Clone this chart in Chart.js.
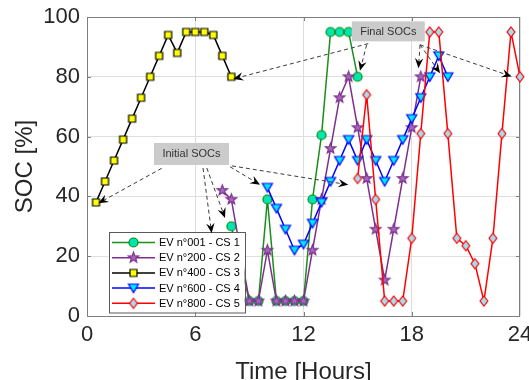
<!DOCTYPE html>
<html>
<head>
<meta charset="utf-8">
<script src="https://cdn.jsdelivr.net/npm/chart.js@4.4.1/dist/chart.umd.min.js"></script>
<style>
  html, body { margin: 0; padding: 0; background: #fff; }
  #wrap { width: 529px; height: 380px; }
</style>
</head>
<body>
<div id="wrap"><canvas id="socChart"></canvas></div>
<script>
// SOC profiles of the five EVs (time in hours, SOC in %)
const hoursEV001 = [8, 9, 9.5, 10, 10.5, 11, 11.5, 12, 12.5, 13, 13.5, 14, 14.5, 15];
const socEV001 = [30, 5, 5, 39, 5, 5, 5, 5, 39, 60.5, 95, 95, 95, 80];

const hoursEV200 = [7.5, 8, 9, 9.5, 10, 10.5, 11, 11.5, 12, 12.5, 13, 13.5, 14, 14.5, 15, 15.5, 16, 16.5, 17, 17.5, 18, 18.5];
const socEV200 = [42, 39, 5, 5, 22, 5, 5, 5, 5, 22, 39, 56, 73, 80, 63, 46, 29, 12, 29, 46, 63, 80];

const hoursEV400 = [0.5, 1, 1.5, 2, 2.5, 3, 3.5, 4, 4.5, 5, 5.5, 6, 6.5, 7, 7.5, 8];
const socEV400 = [38, 45, 52, 59, 66, 73, 80, 87, 94, 88, 95, 95, 95, 94, 87, 80];

const hoursEV600 = [10, 10.5, 11, 11.5, 12, 12.5, 13, 13.5, 14, 14.5, 15, 15.5, 16, 16.5, 17, 17.5, 18, 18.5, 19, 19.5, 20];
const socEV600 = [43, 36, 29, 22, 24, 31, 38, 45, 52, 59, 52, 59, 52, 45, 52, 59, 66, 73, 80, 87, 80];

const hoursEV800 = [15, 15.5, 16, 16.5, 17, 17.5, 18, 18.5, 19, 19.5, 20, 20.5, 21, 21.5, 22, 22.5, 23, 23.5, 24];
const socEV800 = [46, 74, 39, 5, 5, 5, 26, 61, 95, 95, 61, 26, 23.5, 17.5, 5, 26, 61, 95, 80];

const seriesLabels = ['EV n°001 - CS 1', 'EV n°200 - CS 2', 'EV n°400 - CS 3', 'EV n°600 - CS 4', 'EV n°800 - CS 5'];
const xTicks = [0, 6, 12, 18, 24];
const yTicks = [0, 20, 40, 60, 80, 100];

// annotation boxes and arrows, in data units [xStart, yStart, xTip, yTip]
const initialBox = { text: 'Initial SOCs', x: 5.79, y: 54.2, w: 75, h: 22 };
const finalBox = { text: 'Final SOCs', x: 16.70, y: 95.2, w: 73, h: 20 };
const initialArrows = [
    [4.14, 49.4, 0.63, 37.7],
    [6.43, 49.5, 6.91, 27.7],
    [6.64, 49.5, 7.65, 32.8],
    [7.93, 49.9, 9.59, 43.9],
    [8.04, 50.2, 14.48, 43.9]
];
const finalArrows = [
    [15.59, 91.1, 8.11, 79.3],
    [15.50, 90.7, 15.13, 82.0],
    [18.46, 90.7, 18.37, 82.9],
    [18.46, 90.7, 19.57, 81.2],
    [18.46, 90.7, 23.54, 80.1]
];

const FONT = "'Liberation Sans', Arial, Helvetica, sans-serif";
const AXIS_COLOR = '#262626';

// Build a marker image (MATLAB-like symbols)
function makeMarker(shape, size, face, edge) {
    const s = size + 4;
    const c = document.createElement('canvas');
    c.width = s;
    c.height = s;
    const g = c.getContext('2d');
    g.translate(s / 2, s / 2);
    const r = size / 2;
    g.beginPath();
    if (shape === 'circle') {
        g.arc(0, 0, r, 0, Math.PI * 2);
    } else if (shape === 'square') {
        g.rect(-r, -r, size, size);
    } else if (shape === 'triangleDown') {
        g.moveTo(-r, -r * 0.8);
        g.lineTo(r, -r * 0.8);
        g.lineTo(0, r * 0.9);
        g.closePath();
    } else if (shape === 'diamond') {
        g.moveTo(0, -r);
        g.lineTo(r * 0.78, 0);
        g.lineTo(0, r);
        g.lineTo(-r * 0.78, 0);
        g.closePath();
    } else if (shape === 'star') {
        for (let k = 0; k < 10; k++) {
            const a = -Math.PI / 2 + k * Math.PI / 5;
            const rad = k % 2 === 0 ? r : r * 0.42;
            const px = rad * Math.cos(a), py = rad * Math.sin(a);
            if (k === 0) g.moveTo(px, py); else g.lineTo(px, py);
        }
        g.closePath();
    }
    g.fillStyle = face;
    g.fill();
    g.lineWidth = 1.2;
    g.strokeStyle = edge;
    g.stroke();
    return c;
}

function toPoints(xs, ys) {
    return xs.map((x, i) => ({ x: x, y: ys[i] }));
}

const markers = [
    makeMarker('circle', 9, '#00e6b0', '#0a8a0a'),
    makeMarker('star', 11, '#a569b8', '#7e2f8e'),
    makeMarker('square', 7, '#ffff00', '#000000'),
    makeMarker('triangleDown', 10, '#00e8ff', '#0000ff'),
    makeMarker('diamond', 10, '#a6dcee', '#ff0000')
];
const lineColors = ['#1a8f1a', '#7e2f8e', '#000000', '#0000ff', '#ff0000'];
const seriesData = [
    toPoints(hoursEV001, socEV001),
    toPoints(hoursEV200, socEV200),
    toPoints(hoursEV400, socEV400),
    toPoints(hoursEV600, socEV600),
    toPoints(hoursEV800, socEV800)
];

// Axes box with inward ticks
const boxPlugin = {
    id: 'axesBox',
    beforeDatasetsDraw(chart) {
        const { ctx, chartArea: ca, scales } = chart;
        ctx.save();
        ctx.strokeStyle = '#7f7f7f';
        ctx.lineWidth = 1;
        ctx.beginPath();
        xTicks.slice(1, -1).forEach(v => {
            const px = Math.round(scales.x.getPixelForValue(v)) + 0.5;
            ctx.moveTo(px, ca.bottom); ctx.lineTo(px, ca.bottom - 4);
            ctx.moveTo(px, ca.top); ctx.lineTo(px, ca.top + 4);
        });
        yTicks.slice(1, -1).forEach(v => {
            const py = Math.round(scales.y.getPixelForValue(v)) + 0.5;
            ctx.moveTo(ca.left, py); ctx.lineTo(ca.left + 4, py);
            ctx.moveTo(ca.right, py); ctx.lineTo(ca.right - 4, py);
        });
        ctx.stroke();
        ctx.strokeRect(Math.round(ca.left) + 0.5, Math.round(ca.top) + 0.5,
            Math.round(ca.right - ca.left) - 1, Math.round(ca.bottom - ca.top));
        ctx.restore();
    }
};

// Legend inside the plot, lower left
const legendPlugin = {
    id: 'insideLegend',
    afterDatasetsDraw(chart) {
        const { ctx, chartArea: ca } = chart;
        const left = ca.left + 21.5, top = ca.bottom - 84, w = 136, h = 80.5;
        ctx.save();
        ctx.fillStyle = '#ffffff';
        ctx.fillRect(left, top, w, h);
        ctx.strokeStyle = '#5a5a5a';
        ctx.lineWidth = 1;
        ctx.strokeRect(Math.round(left) + 0.5, Math.round(top) + 0.5, w, h);
        ctx.font = '11px ' + FONT;
        ctx.textBaseline = 'middle';
        chart.data.datasets.forEach((ds, i) => {
            const y = top + 10.5 + i * 15.2;
            ctx.strokeStyle = ds.borderColor;
            ctx.lineWidth = 1.5;
            ctx.beginPath();
            ctx.moveTo(left + 3.5, y);
            ctx.lineTo(left + 46.5, y);
            ctx.stroke();
            const m = ds.pointStyle;
            ctx.drawImage(m, left + 25 - m.width / 2, y - m.height / 2);
            ctx.fillStyle = '#000000';
            ctx.fillText(ds.label, left + 50.5, y + 0.5);
        });
        ctx.restore();
    }
};

function drawArrow(ctx, x1, y1, x2, y2) {
    const ang = Math.atan2(y2 - y1, x2 - x1);
    const cos = Math.cos(ang), sin = Math.sin(ang);
    const L = 10, W = 4.2;
    ctx.setLineDash([4, 3]);
    ctx.strokeStyle = '#3a3a3a';
    ctx.lineWidth = 1;
    ctx.beginPath();
    ctx.moveTo(x1, y1);
    ctx.lineTo(x2 - L * 0.6 * cos, y2 - L * 0.6 * sin);
    ctx.stroke();
    ctx.setLineDash([]);
    const bx = x2 - L * cos, by = y2 - L * sin;
    ctx.fillStyle = '#000000';
    ctx.beginPath();
    ctx.moveTo(x2, y2);
    ctx.lineTo(bx - W * sin, by + W * cos);
    ctx.lineTo(x2 - L * 0.65 * cos, y2 - L * 0.65 * sin);
    ctx.lineTo(bx + W * sin, by - W * cos);
    ctx.closePath();
    ctx.fill();
}

// Text boxes with dashed arrows
const annotationPlugin = {
    id: 'socNotes',
    afterDraw(chart) {
        const { ctx, scales: { x, y } } = chart;
        ctx.save();
        [[initialBox, initialArrows], [finalBox, finalArrows]].forEach(([box, arrows]) => {
            arrows.forEach(a => {
                drawArrow(ctx, x.getPixelForValue(a[0]), y.getPixelForValue(a[1]),
                    x.getPixelForValue(a[2]), y.getPixelForValue(a[3]));
            });
            const cx = x.getPixelForValue(box.x), cy = y.getPixelForValue(box.y);
            ctx.fillStyle = '#cbcbcb';
            ctx.fillRect(cx - box.w / 2, cy - box.h / 2, box.w, box.h);
            ctx.fillStyle = '#333333';
            ctx.font = '11px ' + FONT;
            ctx.textAlign = 'center';
            ctx.textBaseline = 'middle';
            ctx.fillText(box.text, cx, cy + 0.5);
        });
        ctx.restore();
    }
};

function createSocChart() {
    const ctx = document.getElementById('socChart');
    Chart.defaults.font.family = FONT;

    const datasets = seriesData.map((pts, i) => ({
        label: seriesLabels[i],
        data: pts,
        borderColor: lineColors[i],
        backgroundColor: lineColors[i],
        borderWidth: 1.5,
        pointStyle: markers[i],
        pointRadius: 5,
        tension: 0,
        fill: false,
        clip: false,
        order: 5 - i
    }));

    new Chart(ctx, {
        type: 'line',
        data: { datasets: datasets },
        options: {
            responsive: true,
            maintainAspectRatio: false,
            animation: false,
            layout: { autoPadding: false, padding: { top: 17, right: 9, left: 0, bottom: 0 } },
            plugins: {
                legend: { display: false },
                tooltip: { enabled: false }
            },
            scales: {
                x: {
                    type: 'linear',
                    min: 0,
                    max: 24,
                    afterBuildTicks: s => { s.ticks = xTicks.map(v => ({ value: v })); },
                    afterFit: s => { s.height = 64; s.paddingLeft = 0; s.paddingRight = 0; },
                    ticks: { font: { size: 22 }, color: AXIS_COLOR, padding: 6, maxRotation: 0, autoSkip: false },
                    grid: { color: '#dedede', drawTicks: false },
                    border: { display: false },
                    title: { display: true, text: 'Time [Hours]', color: AXIS_COLOR, font: { size: 24 }, padding: { top: 0, bottom: -7 } }
                },
                y: {
                    min: 0,
                    max: 100,
                    afterBuildTicks: s => { s.ticks = yTicks.map(v => ({ value: v })); },
                    afterFit: s => { s.width = 87; s.paddingTop = 0; s.paddingBottom = 0; },
                    ticks: { font: { size: 22 }, color: AXIS_COLOR, padding: 7 },
                    grid: { color: '#dedede', drawTicks: false },
                    border: { display: false },
                    title: { display: true, text: 'SOC [%]', color: AXIS_COLOR, font: { size: 24 }, padding: { top: 11, bottom: 0 } }
                }
            }
        },
        plugins: [boxPlugin, legendPlugin, annotationPlugin]
    });
}

document.addEventListener('DOMContentLoaded', createSocChart);
</script>
</body>
</html>
